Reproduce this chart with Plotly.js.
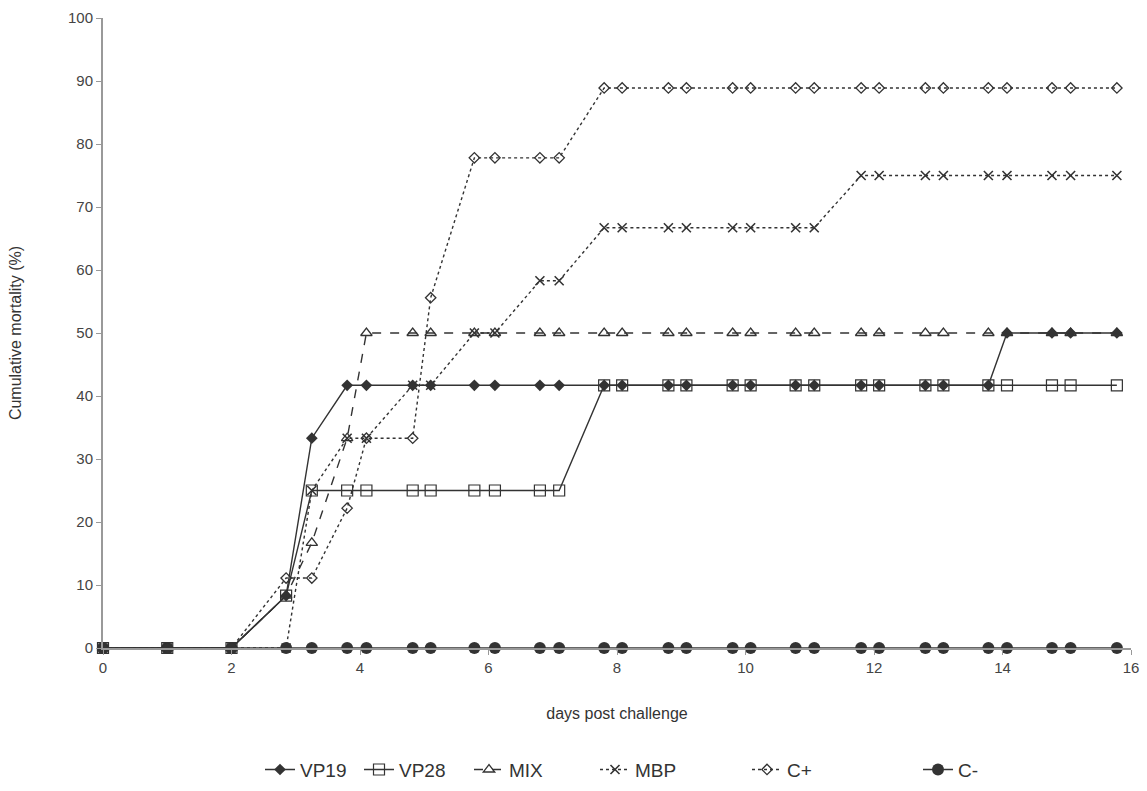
<!DOCTYPE html>
<html>
<head>
<meta charset="utf-8">
<script src="https://cdn.plot.ly/plotly-3.0.1.min.js"></script>
<style>html,body{margin:0;padding:0;background:#fff;}#chart{width:1147px;height:791px;}</style>
</head>
<body>
<div id="chart"></div>
<script>
const days = [0, 1, 2, 2.85, 3.25, 3.8, 4.1, 4.82, 5.1, 5.78, 6.1, 6.8, 7.1, 7.8, 8.08, 8.8, 9.08, 9.8, 10.08, 10.78, 11.07, 11.8, 12.08, 12.8, 13.08, 13.78, 14.07, 14.77, 15.06, 15.78];
const vp19 = [0, 0, 0, 8.3, 33.3, 41.7, 41.7, 41.7, 41.7, 41.7, 41.7, 41.7, 41.7, 41.7, 41.7, 41.7, 41.7, 41.7, 41.7, 41.7, 41.7, 41.7, 41.7, 41.7, 41.7, 41.7, 50, 50, 50, 50];
const vp28 = [0, 0, 0, 8.3, 25, 25, 25, 25, 25, 25, 25, 25, 25, 41.7, 41.7, 41.7, 41.7, 41.7, 41.7, 41.7, 41.7, 41.7, 41.7, 41.7, 41.7, 41.7, 41.7, 41.7, 41.7, 41.7];
const mix = [0, 0, 0, 8.3, 16.7, 33.3, 50, 50, 50, 50, 50, 50, 50, 50, 50, 50, 50, 50, 50, 50, 50, 50, 50, 50, 50, 50, 50, 50, 50, 50];
const mbp = [0, 0, 0, 0, 25, 33.3, 33.3, 41.7, 41.7, 50, 50, 58.3, 58.3, 66.7, 66.7, 66.7, 66.7, 66.7, 66.7, 66.7, 66.7, 75, 75, 75, 75, 75, 75, 75, 75, 75];
const cplus = [0, 0, 0, 11.1, 11.1, 22.2, 33.3, 33.3, 55.6, 77.8, 77.8, 77.8, 77.8, 88.9, 88.9, 88.9, 88.9, 88.9, 88.9, 88.9, 88.9, 88.9, 88.9, 88.9, 88.9, 88.9, 88.9, 88.9, 88.9, 88.9];
const cminus = [0, 0, 0, 0, 0, 0, 0, 0, 0, 0, 0, 0, 0, 0, 0, 0, 0, 0, 0, 0, 0, 0, 0, 0, 0, 0, 0, 0, 0, 0];
const seriesNames = ["VP19", "VP28", "MIX", "MBP", "C+", "C-"];
const xTicks = [0, 2, 4, 6, 8, 10, 12, 14, 16];
const yTicks = [0, 10, 20, 30, 40, 50, 60, 70, 80, 90, 100];

const lc = "#333333";
function tr(name, y, dash, sym, size, mlw, lg) {
  return {
    x: days, y: y, name: name, type: "scatter", mode: "lines+markers",
    cliponaxis: false, legend: lg,
    line: {color: lc, width: 1.4, dash: dash},
    marker: {symbol: sym, size: size, color: lc, line: {color: lc, width: mlw}}
  };
}
const data = [
  tr(seriesNames[5], cminus, "solid", "circle", 12, 0, "legend6"),
  tr(seriesNames[4], cplus, "dot", "diamond-open", 8, 1.3, "legend5"),
  tr(seriesNames[3], mbp, "dot", "x-thin-open", 9, 1.6, "legend4"),
  tr(seriesNames[2], mix, "dash", "triangle-up-open", 10, 1.3, "legend3"),
  tr(seriesNames[1], vp28, "solid", "square-open", 11, 1.2, "legend2"),
  tr(seriesNames[0], vp19, "solid", "diamond", 9, 0, "legend")
];

function lgd(px) {
  return {
    orientation: "h", x: (px - 5) / 1147, xanchor: "left", xref: "container",
    y: 0.027, yanchor: "middle", yref: "container",
    font: {size: 19, color: "#333"}, bgcolor: "rgba(0,0,0,0)"
  };
}

const layout = {
  width: 1147, height: 791,
  paper_bgcolor: "#fff", plot_bgcolor: "#fff",
  margin: {l: 103, r: 16, t: 18, b: 143},
  font: {family: "Liberation Sans, Arial, sans-serif", size: 15, color: "#444"},
  showlegend: true,
  legend: lgd(265),
  legend2: lgd(364),
  legend3: lgd(474),
  legend4: lgd(600),
  legend5: lgd(752),
  legend6: lgd(923),
  xaxis: {
    range: [0, 16], tickvals: xTicks, ticktext: xTicks.map(String),
    showgrid: false, zeroline: false, showline: true, linecolor: "#999", linewidth: 2,
    ticks: "outside", ticklen: 5, tickcolor: "#999", tickwidth: 1,
    tickfont: {size: 15, color: "#444"},
    automargin: false,
    title: {text: "days post challenge", font: {size: 16, color: "#333"}, standoff: 33}
  },
  yaxis: {
    range: [0, 100], tickvals: yTicks, ticktext: yTicks.map(String),
    showgrid: false, zeroline: false, showline: true, linecolor: "#999", linewidth: 2,
    ticks: "outside", ticklen: 5, tickcolor: "#999", tickwidth: 1,
    tickfont: {size: 15, color: "#444"},
    automargin: false,
    title: {text: "Cumulative mortality (%)", font: {size: 16, color: "#333"}, standoff: 42}
  }
};
Plotly.newPlot("chart", data, layout, {displayModeBar: false, staticPlot: true});
</script>
</body>
</html>
